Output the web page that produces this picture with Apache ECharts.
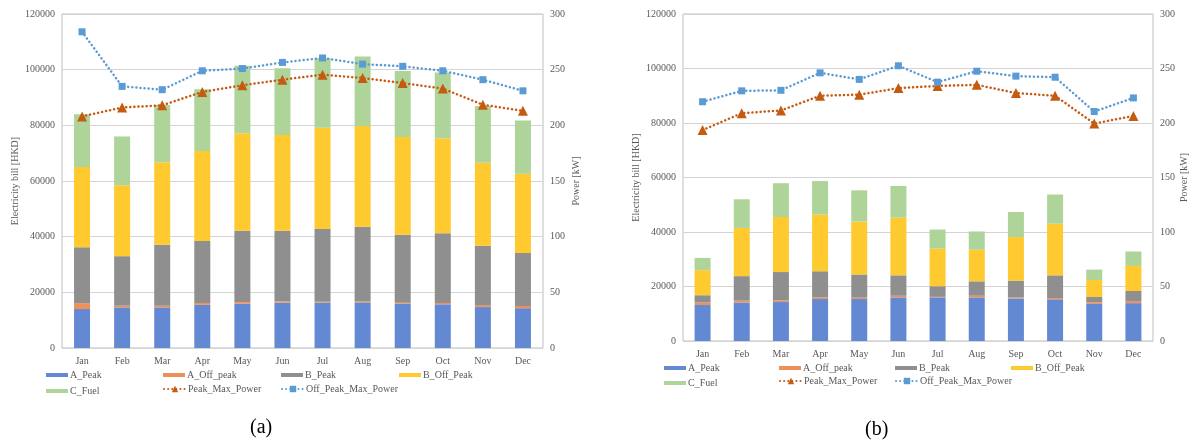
<!DOCTYPE html>
<html lang="en">
<head>
  <meta charset="UTF-8">
  <script src="https://cdn.jsdelivr.net/npm/echarts@6.0.0/dist/echarts.min.js"></script>
  <style>
    body { margin: 0; background: #fff; }
  </style>
</head>
<body>
  <div id="billChart" style="width: 1197px;height:443px;"></div>

  <script type="text/javascript">

    const months = ['Jan', 'Feb', 'Mar', 'Apr', 'May', 'Jun', 'Jul', 'Aug', 'Sep', 'Oct', 'Nov', 'Dec'];
    const billTicks = [0, 20000, 40000, 60000, 80000, 100000, 120000];
    const powerTicks = [0, 50, 100, 150, 200, 250, 300];

    // chart (a) - stacked bill components [HKD]
    const aPeakA = [14000, 14600, 14600, 15500, 15900, 16300, 16300, 16400, 15900, 15700, 14700, 14300];
    const aOffPeakA = [2100, 600, 600, 700, 600, 500, 350, 400, 400, 500, 700, 800];
    const bPeakA = [20100, 17800, 21900, 22250, 25650, 25350, 26100, 26800, 24400, 25000, 21350, 19000];
    const bOffPeakA = [28800, 25500, 29600, 32350, 35000, 34350, 36400, 36200, 35100, 34150, 29800, 28500];
    const cFuelA = [19000, 17500, 20600, 22200, 24250, 24000, 24950, 24930, 23700, 23650, 20370, 19170];
    // chart (a) - power [kW]
    const peakPowerA = [208, 216, 218, 230, 236, 241, 245.5, 242.5, 238, 233, 218.5, 213];
    const offPeakPowerA = [284, 235, 232, 249, 251, 256.5, 260.5, 255, 253, 249, 241, 231];

    // chart (b)
    const aPeakB = [13200, 14100, 14300, 15400, 15400, 16000, 16000, 16000, 15600, 15300, 13600, 13900];
    const aOffPeakB = [900, 700, 600, 600, 500, 600, 200, 600, 350, 450, 600, 750];
    const bPeakB = [2700, 9000, 10400, 9600, 8500, 7500, 3900, 5300, 6200, 8350, 1950, 3700];
    const bOffPeakB = [9200, 17700, 20200, 20800, 19400, 21200, 13800, 11600, 16000, 19000, 6250, 9200];
    const cFuelB = [4500, 10500, 12400, 12300, 11500, 11600, 7000, 6700, 9200, 10650, 3800, 5300];
    const peakPowerB = [193.5, 209, 211.5, 225, 226, 232, 234, 235, 227.5, 225, 199.5, 206.5];
    const offPeakPowerB = [219.5, 229.5, 230, 246, 240, 252.5, 237.5, 247.5, 243, 242, 210.5, 223];

    const serif = 'Liberation Serif';
    const textGray = '#595959';
    const colors = {
      A_Peak: '#6389d3',
      A_Off_peak: '#ee905a',
      B_Peak: '#8f8f8f',
      B_Off_Peak: '#ffc930',
      C_Fuel: '#aed49a',
      Peak_Max_Power: '#c55a11',
      Off_Peak_Max_Power: '#5b9bd5'
    };

    function getOrCreateChart(div) {
      return echarts.init(div);
    }

    function barSeries(name, data, idx) {
      return {
        name: name,
        type: 'bar',
        stack: 'bill' + idx,
        xAxisIndex: idx,
        yAxisIndex: idx * 2,
        barWidth: 16,
        data: data,
        itemStyle: { color: colors[name] },
        emphasis: { disabled: true }
      };
    }

    function lineSeries(name, data, idx, symbol, size) {
      return {
        name: name,
        type: 'line',
        xAxisIndex: idx,
        yAxisIndex: idx * 2 + 1,
        data: data,
        symbol: symbol,
        symbolSize: size,
        itemStyle: { color: colors[name] },
        lineStyle: { color: colors[name], width: 2.5, type: [0.1, 4], cap: 'round' },
        z: 5
      };
    }

    function legendItem(name, left, top, isLine) {
      return {
        data: [name],
        left: left,
        top: top,
        itemWidth: 22,
        itemHeight: isLine ? 8 : 4,
        icon: isLine ? undefined : 'rect',
        padding: 0,
        selectedMode: false,
        textStyle: { fontFamily: serif, fontSize: 10, color: textGray, padding: [0, 0, 0, -3] }
      };
    }

    function valueAxis(gridIndex, ticks, name, position, nameGap, showSplit) {
      return {
        type: 'value',
        gridIndex: gridIndex,
        position: position,
        min: ticks[0],
        max: ticks[ticks.length - 1],
        interval: ticks[1] - ticks[0],
        name: name,
        nameLocation: 'middle',
        nameGap: nameGap,
        nameTextStyle: { fontFamily: serif, fontSize: 10, color: textGray },
        axisLine: { show: false },
        axisTick: { show: false },
        axisLabel: { fontFamily: serif, fontSize: 10, color: textGray, margin: 7, formatter: v => String(v) },
        splitLine: { show: showSplit, lineStyle: { color: '#d4d4d4' } }
      };
    }

    function createBillChart() {
      const chart = getOrCreateChart(document.getElementById('billChart'));

      const legends = [];
      const cols = [[46, 163, 281, 399], [664, 779, 895, 1011]];
      const rows = [[370, 386], [363, 378]];
      [0, 1].forEach(i => {
        legends.push(legendItem('A_Peak', cols[i][0], rows[i][0], false));
        legends.push(legendItem('A_Off_peak', cols[i][1], rows[i][0], false));
        legends.push(legendItem('B_Peak', cols[i][2], rows[i][0], false));
        legends.push(legendItem('B_Off_Peak', cols[i][3], rows[i][0], false));
        legends.push(legendItem('C_Fuel', cols[i][0], rows[i][1], false));
        legends.push(legendItem('Peak_Max_Power', cols[i][1], rows[i][1] - 2, true));
        legends.push(legendItem('Off_Peak_Max_Power', cols[i][2], rows[i][1] - 2, true));
      });

      let option = {
        animation: false,
        title: [
          { text: '(a)', left: 245, top: 413, textStyle: { fontFamily: serif, fontSize: 20, fontWeight: 'normal', color: '#000' } },
          { text: '(b)', left: 860, top: 415, textStyle: { fontFamily: serif, fontSize: 20, fontWeight: 'normal', color: '#000' } }
        ],
        legend: legends,
        grid: [
          { left: 62, top: 14, width: 481, height: 334, show: true, borderColor: '#bfbfbf', borderWidth: 1, backgroundColor: 'transparent' },
          { left: 683, top: 14, width: 470, height: 327, show: true, borderColor: '#bfbfbf', borderWidth: 1, backgroundColor: 'transparent' }
        ],
        xAxis: [0, 1].map(i => ({
          type: 'category',
          gridIndex: i,
          data: months,
          axisLine: { show: false },
          axisTick: { show: false },
          axisLabel: { fontFamily: serif, fontSize: 10, color: textGray, margin: 8, interval: 0 }
        })),
        yAxis: [
          valueAxis(0, billTicks, 'Electricity bill [HKD]', 'left', 42, true),
          valueAxis(0, powerTicks, 'Power [kW]', 'right', 28, false),
          valueAxis(1, billTicks, 'Electricity bill [HKD]', 'left', 42, true),
          valueAxis(1, powerTicks, 'Power [kW]', 'right', 26, false)
        ],
        series: [
          barSeries('A_Peak', aPeakA, 0),
          barSeries('A_Off_peak', aOffPeakA, 0),
          barSeries('B_Peak', bPeakA, 0),
          barSeries('B_Off_Peak', bOffPeakA, 0),
          barSeries('C_Fuel', cFuelA, 0),
          lineSeries('Peak_Max_Power', peakPowerA, 0, 'triangle', 10),
          lineSeries('Off_Peak_Max_Power', offPeakPowerA, 0, 'rect', 7),
          barSeries('A_Peak', aPeakB, 1),
          barSeries('A_Off_peak', aOffPeakB, 1),
          barSeries('B_Peak', bPeakB, 1),
          barSeries('B_Off_Peak', bOffPeakB, 1),
          barSeries('C_Fuel', cFuelB, 1),
          lineSeries('Peak_Max_Power', peakPowerB, 1, 'triangle', 10),
          lineSeries('Off_Peak_Max_Power', offPeakPowerB, 1, 'rect', 7)
        ]
      };

      chart.setOption(option);
    }
    createBillChart();
  </script>
</body>
</html>
